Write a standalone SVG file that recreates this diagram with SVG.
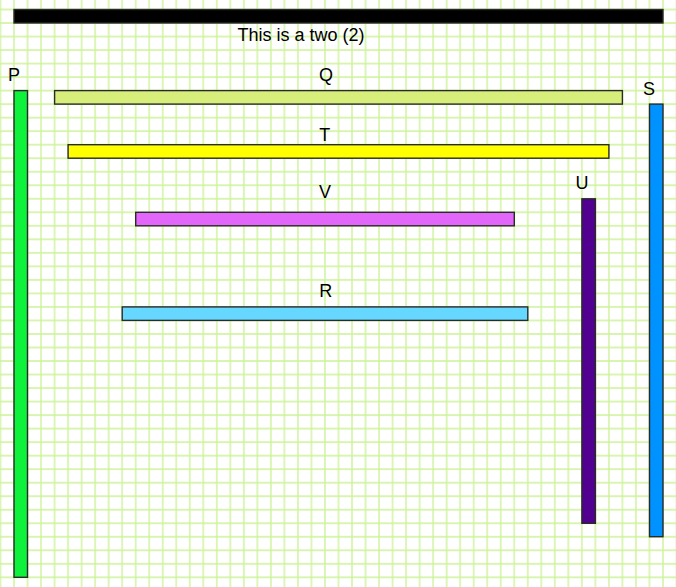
<svg xmlns="http://www.w3.org/2000/svg" width="676" height="587" viewBox="0 0 676 587">
  <defs>
    <pattern id="grid" patternUnits="userSpaceOnUse" x="-6.26" y="2.74" width="13.52" height="13.52">
      <path d="M6.76 0 V13.52 M0 6.76 H13.52" stroke="#cbf296" stroke-width="1.35" fill="none"/>
    </pattern>
  </defs>
  <style>
    .bar { stroke: #2a2a2a; stroke-width: 1.4; }
    .lbl { font-family: "Liberation Sans", Arial, sans-serif; font-size: 18px; fill: #000; text-anchor: middle; }
  </style>
  <rect x="0" y="0" width="676" height="587" fill="#ffffff"/>
  <rect x="0" y="0" width="676" height="587" fill="url(#grid)"/>

  <g id="title">
    <rect class="bar" x="14" y="9.5" width="649" height="13.5" fill="#000000" stroke="#444"/>
    <text class="lbl" x="301" y="40.5">This is a two (2)</text>
  </g>
  <g id="node-P">
    <rect class="bar" x="14" y="90.6" width="13.5" height="486.7" fill="#0ef23c"/>
    <text class="lbl" x="14" y="81">P</text>
  </g>
  <g id="node-Q">
    <rect class="bar" x="54.6" y="90.6" width="567.8" height="13.5" fill="#d8ee7b"/>
    <text class="lbl" x="326" y="81">Q</text>
  </g>
  <g id="node-S">
    <rect class="bar" x="649.5" y="104.1" width="13.5" height="432.6" fill="#0092ff"/>
    <text class="lbl" x="649" y="94.5">S</text>
  </g>
  <g id="node-T">
    <rect class="bar" x="68.1" y="144.7" width="540.8" height="13.5" fill="#ffff00"/>
    <text class="lbl" x="324.7" y="140.7">T</text>
  </g>
  <g id="node-U">
    <rect class="bar" x="581.9" y="198.8" width="13.5" height="324.5" fill="#52008f"/>
    <text class="lbl" x="582" y="188.7">U</text>
  </g>
  <g id="node-V">
    <rect class="bar" x="135.7" y="212.3" width="378.6" height="13.5" fill="#e266fa"/>
    <text class="lbl" x="325" y="198">V</text>
  </g>
  <g id="node-R">
    <rect class="bar" x="122.2" y="306.9" width="405.6" height="13.5" fill="#66d8ff"/>
    <text class="lbl" x="325.7" y="296.7">R</text>
  </g>
  <g id="connectors"></g>
</svg>
